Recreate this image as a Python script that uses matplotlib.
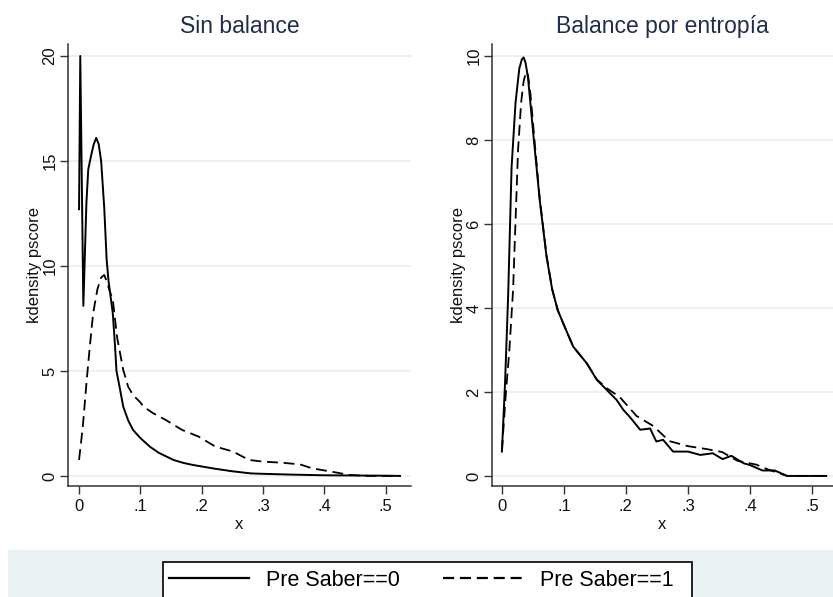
import matplotlib
matplotlib.use("Agg")
import matplotlib.pyplot as plt
from matplotlib.patches import Rectangle
from matplotlib.lines import Line2D

plt.rcParams['font.family'] = ['Liberation Sans', 'DejaVu Sans']

# Sin balance, Pre Saber==0
sb0_x = [0, 0.002, 0.007, 0.012, 0.015, 0.02, 0.024, 0.028, 0.032, 0.036, 0.041, 0.045,
         0.048, 0.055, 0.0587, 0.061, 0.066, 0.072, 0.08, 0.088, 0.1, 0.116, 0.13, 0.154,
         0.17, 0.186, 0.2, 0.22, 0.25, 0.28, 0.3, 0.35, 0.4, 0.45, 0.5, 0.523]
sb0_y = [12.7, 20.0, 8.1, 13.0, 14.6, 15.3, 15.8, 16.1, 15.8, 15.0, 12.8, 10.3,
         9.3, 7.75, 6.16, 5.0, 4.25, 3.3, 2.65, 2.19, 1.8, 1.38, 1.1, 0.76,
         0.62, 0.52, 0.45, 0.35, 0.22, 0.12, 0.1, 0.06, 0.03, 0.02, 0.01, 0.0]
# Sin balance, Pre Saber==1
sb1_x = [0, 0.006, 0.0125, 0.018, 0.023, 0.03, 0.036, 0.041, 0.046, 0.05, 0.055, 0.062,
         0.072, 0.08, 0.088, 0.1, 0.105, 0.12, 0.141, 0.168, 0.195, 0.222, 0.251, 0.277,
         0.30, 0.33, 0.36, 0.38, 0.41, 0.44, 0.47, 0.523]
sb1_y = [0.76, 2.3, 4.57, 6.3, 7.75, 8.9, 9.45, 9.57, 9.2, 8.8, 8.4, 6.6,
         5.05, 4.25, 3.85, 3.5, 3.3, 3.0, 2.67, 2.19, 1.87, 1.4, 1.16, 0.76,
         0.68, 0.63, 0.55, 0.36, 0.21, 0.05, 0.0, 0.0]

# Balance por entropia, Pre Saber==0
eb0_x = [0, 0.005, 0.010, 0.0156, 0.022, 0.028, 0.032, 0.035, 0.038, 0.042, 0.0505, 0.061,
         0.072, 0.081, 0.09, 0.099, 0.115, 0.137, 0.153, 0.169, 0.185, 0.196, 0.206, 0.223,
         0.239, 0.249, 0.26, 0.276, 0.30, 0.32, 0.34, 0.356, 0.37, 0.39, 0.40, 0.42, 0.44,
         0.46, 0.523]
eb0_y = [0.58, 2.2, 4.27, 7.36, 8.9, 9.7, 9.92, 9.97, 9.85, 9.5, 8.16, 6.57,
         5.22, 4.45, 3.95, 3.63, 3.08, 2.68, 2.29, 2.05, 1.81, 1.57, 1.41, 1.10,
         1.13, 0.82, 0.86, 0.58, 0.58, 0.50, 0.54, 0.40, 0.48, 0.30, 0.26, 0.13, 0.13,
         0.0, 0.0]
# Balance por entropia, Pre Saber==1
eb1_x = [0, 0.006, 0.012, 0.018, 0.026, 0.031, 0.035, 0.039, 0.042, 0.046, 0.053, 0.061,
         0.072, 0.081, 0.09, 0.099, 0.115, 0.137, 0.153, 0.17, 0.19, 0.217, 0.244, 0.27,
         0.30, 0.33, 0.355, 0.38, 0.41, 0.43, 0.46, 0.523]
eb1_y = [0.6, 1.9, 3.0, 4.43, 7.76, 8.9, 9.4, 9.63, 9.55, 9.1, 7.92, 6.6,
         5.25, 4.45, 3.95, 3.63, 3.08, 2.68, 2.3, 2.08, 1.88, 1.43, 1.19, 0.83,
         0.71, 0.64, 0.57, 0.36, 0.27, 0.15, 0.0, 0.0]

titles = ["Sin balance", "Balance por entropía"]
labels = ["Pre Saber==0", "Pre Saber==1"]
x_ticks = [0, 0.1, 0.2, 0.3, 0.4, 0.5]
x_ticklabels = ["0", ".1", ".2", ".3", ".4", ".5"]
y_ticks_left = [0, 5, 10, 15, 20]
y_ticks_right = [0, 2, 4, 6, 8, 10]

W, H = 833, 597
fig = plt.figure(figsize=(W / 100, H / 100), dpi=100)

navy = "#1e2d4e"
grid_c = "#e8f0f2"
axis_c = "#333333"
dash = (6, 3.2)


def px_axes(x0, y0, x1, y1):
    return fig.add_axes([x0 / W, 1 - y1 / H, (x1 - x0) / W, (y1 - y0) / H])


def style(ax, yticks, ylim, title):
    ax.set_xlim(-0.018, 0.541)
    ax.set_ylim(*ylim)
    ax.set_xticks(x_ticks)
    ax.set_xticklabels(x_ticklabels)
    ax.set_yticks(yticks)
    ax.set_yticklabels([str(v) for v in yticks], rotation=90, va="center")
    ax.grid(axis="y", color=grid_c, linewidth=1.3)
    ax.set_axisbelow(True)
    for s in ["top", "right"]:
        ax.spines[s].set_visible(False)
    for s in ["left", "bottom"]:
        ax.spines[s].set_color(axis_c)
        ax.spines[s].set_linewidth(1.1)
    ax.tick_params(colors=axis_c, labelcolor="#111111", labelsize=12, length=6, width=1.0)
    ax.tick_params(axis="y", pad=1.5)
    ax.set_xlabel("x", fontsize=12, color="#111111", labelpad=2)
    ax.set_ylabel("kdensity pscore", fontsize=12, color="#111111", labelpad=0.5)
    ax.set_title(title, fontsize=16.5, color=navy, pad=8)


ax1 = px_axes(68, 44, 411, 486)
ax1.plot(sb0_x, sb0_y, color="black", lw=1.4)
ax1.plot(sb1_x, sb1_y, color="black", lw=1.3, dashes=dash)
style(ax1, y_ticks_left, (-0.48, 20.57), titles[0])

ax2 = px_axes(492, 44, 833, 486)
ax2.plot(eb0_x, eb0_y, color="black", lw=1.4)
ax2.plot(eb1_x, eb1_y, color="black", lw=1.3, dashes=dash)
style(ax2, y_ticks_right, (-0.24, 10.29), titles[1])
ax2.set_xlim(-0.016, 0.534)

# legend band and box
fig.patches.append(Rectangle((8 / W, 0), (W - 8) / W, 47 / H, transform=fig.transFigure,
                             facecolor="#eaf1f3", edgecolor="none", zorder=0))
fig.patches.append(Rectangle((163 / W, -0.02), (692 - 163) / W, 0.02 + 35 / H,
                             transform=fig.transFigure, facecolor="white",
                             edgecolor="black", lw=1.2, zorder=1))
handles = [Line2D([], [], color="black", lw=1.6),
           Line2D([], [], color="black", lw=1.6, dashes=(5, 2.6))]
fig.legend(handles, labels, loc="center", bbox_to_anchor=(421 / W, 1 - 580 / H),
           ncol=2, frameon=False, fontsize=15.5, handlelength=3.7, handletextpad=0.8,
           columnspacing=2.0)

fig.savefig("out.png", dpi=100)
